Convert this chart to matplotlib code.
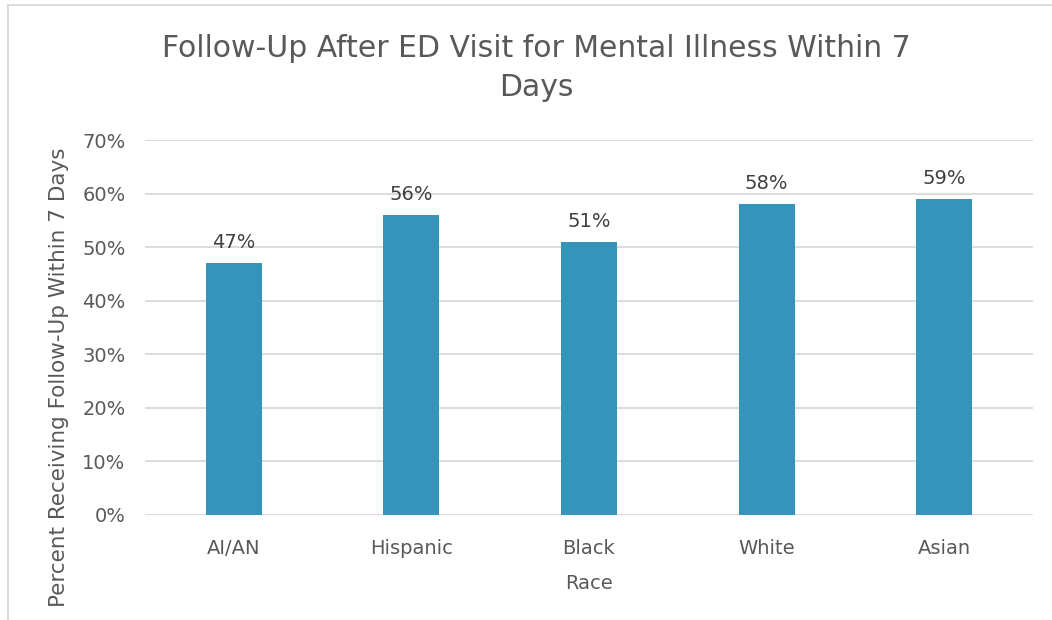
import matplotlib.pyplot as plt
from matplotlib.lines import Line2D
from matplotlib.ticker import PercentFormatter

races = ["AI/AN", "Hispanic", "Black", "White", "Asian"]
pct = [0.47, 0.56, 0.51, 0.58, 0.59]
labels = ["47%", "56%", "51%", "58%", "59%"]

plt.rcParams['font.family'] = ['DejaVu Sans']
grey = '#595959'

fig = plt.figure(figsize=(10.52, 6.2), dpi=100)
ax = fig.add_axes([145/1052, 1 - 515/620, 888/1052, 375/620])

bars = ax.bar(races, pct, width=0.315, color='#3494BA', zorder=3)
ax.set_xlim(-0.5, len(races) - 0.5)
ax.set_ylim(0, 0.7)
ax.set_yticks([i / 10 for i in range(8)])
ax.yaxis.set_major_formatter(PercentFormatter(1.0, decimals=0))
ax.grid(axis='y', color='#D9D9D9', linewidth=1.3, zorder=0)
for s in ax.spines.values():
    s.set_visible(False)
ax.tick_params(length=0, labelsize=14, labelcolor=grey)
ax.tick_params(axis='x', pad=17)
ax.tick_params(axis='y', pad=14)

for b, t in zip(bars, labels):
    ax.annotate(t, (b.get_x() + b.get_width() / 2, b.get_height()),
                xytext=(0, 8), textcoords='offset points',
                ha='center', va='bottom', fontsize=14, color='#404040')

ax.set_xlabel("Race", fontsize=14, color=grey, labelpad=12)
ax.set_ylabel("Percent Receiving Follow-Up Within 7 Days", fontsize=15.5,
              color=grey)
ax.yaxis.set_label_coords(-76/888, (515 - 377) / 375)

fig.text(0.51, 1 - 68/620, "Follow-Up After ED Visit for Mental Illness Within 7\nDays",
         ha='center', va='center', fontsize=21.5, color=grey, linespacing=1.4)

# chart area border (left and top edges visible)
fig.add_artist(Line2D([8/1052, 8/1052], [0, 1 - 5/620], color='#D9D9D9', lw=1.3))
fig.add_artist(Line2D([8/1052, 1], [1 - 5/620, 1 - 5/620], color='#D9D9D9', lw=1.3))

fig.savefig("out.png", dpi=100)
